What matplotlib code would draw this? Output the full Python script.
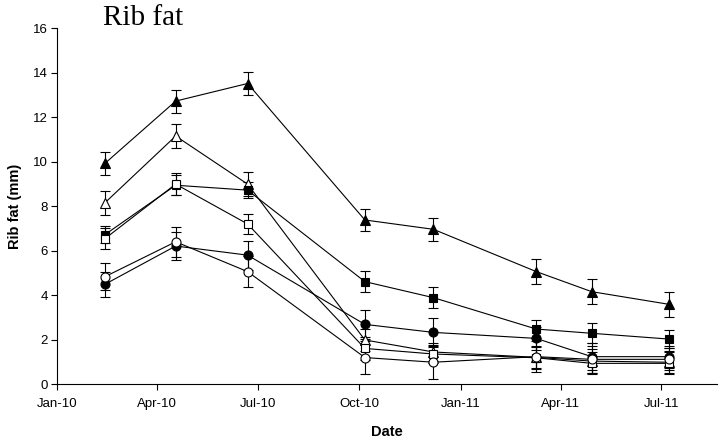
import datetime as dt
import matplotlib
matplotlib.use("Agg")
import matplotlib.pyplot as plt
import matplotlib.dates as mdates

# Sampling dates
dates = ["2010-02-13", "2010-04-18", "2010-06-22", "2010-10-06",
         "2010-12-07", "2011-03-10", "2011-04-29", "2011-07-08"]

# Rib fat means (mm) and standard errors for each group
tri_fill = [9.93, 12.73, 13.52, 7.39, 6.97, 5.07, 4.17, 3.60]
tri_fill_err = [0.50, 0.52, 0.50, 0.50, 0.52, 0.55, 0.55, 0.55]

tri_open = [8.16, 11.16, 9.00, 2.00, 1.46, 1.22, 1.05, 1.00]
tri_open_err = [0.53, 0.55, 0.53, 0.50, 0.40, 0.50, 0.55, 0.50]

sq_fill = [6.73, 8.95, 8.73, 4.62, 3.90, 2.49, 2.30, 2.04]
sq_fill_err = [0.38, 0.45, 0.35, 0.48, 0.47, 0.41, 0.45, 0.40]

sq_open = [6.55, 9.00, 7.21, 1.62, 1.37, 1.20, 0.95, 0.95]
sq_open_err = [0.48, 0.49, 0.47, 0.50, 0.40, 0.50, 0.50, 0.50]

circ_fill = [4.50, 6.22, 5.81, 2.70, 2.34, 2.07, 1.25, 1.25]
circ_fill_err = [0.55, 0.63, 0.65, 0.65, 0.66, 0.50, 0.60, 0.50]

circ_open = [4.84, 6.41, 5.07, 1.21, 1.00, 1.25, 1.13, 1.13]
circ_open_err = [0.60, 0.68, 0.70, 0.75, 0.75, 0.70, 0.60, 0.50]

y_ticks = [0, 2, 4, 6, 8, 10, 12, 14, 16]
x_ticks = ["2010-01-01", "2010-04-01", "2010-07-01", "2010-10-01",
           "2011-01-01", "2011-04-01", "2011-07-01"]

sans = "Liberation Sans"
serif = "Liberation Serif"

x = [dt.datetime.strptime(d, "%Y-%m-%d") for d in dates]

fig = plt.figure(figsize=(7.2, 4.42), dpi=100)
ax = fig.add_axes([0.0796, 0.1301, 0.9158, 0.8059])

series = [
    (tri_fill, tri_fill_err, "^", "black", 7.5),
    (tri_open, tri_open_err, "^", "white", 7.5),
    (sq_fill, sq_fill_err, "s", "black", 6.0),
    (sq_open, sq_open_err, "s", "white", 6.0),
    (circ_fill, circ_fill_err, "o", "black", 6.5),
    (circ_open, circ_open_err, "o", "white", 6.5),
]

for vals, errs, mk, face, ms in series:
    ax.errorbar(x, vals, yerr=errs, color="black", linewidth=0.8,
                elinewidth=0.8, capsize=3.4, capthick=0.8,
                marker=mk, markersize=ms, markerfacecolor=face,
                markeredgecolor="black", markeredgewidth=0.8)

ax.set_ylim(0, 16)
ax.set_xlim(dt.datetime(2010, 1, 1), dt.datetime(2011, 8, 20))
ax.set_yticks(y_ticks)
ax.set_xticks([dt.datetime.strptime(d, "%Y-%m-%d") for d in x_ticks])
ax.xaxis.set_major_formatter(mdates.DateFormatter("%b-%y"))

for side in ("top", "right"):
    ax.spines[side].set_visible(False)
for side in ("left", "bottom"):
    ax.spines[side].set_linewidth(0.8)

ax.tick_params(direction="out", length=4, width=0.8, labelsize=9.5)
ax.tick_params(axis="x", pad=6)
ax.tick_params(axis="y", pad=3)
for lab in ax.get_xticklabels() + ax.get_yticklabels():
    lab.set_fontfamily(sans)

fig.text(103 / 720, 1 - 25 / 442, "Rib fat", family=serif, fontsize=21,
         ha="left", va="baseline")
fig.text(15 / 720, 1 - 206.5 / 442, "Rib fat (mm)", family=sans,
         fontsize=10.5, fontweight="bold", rotation=90, ha="center",
         va="center")
fig.text(387 / 720, 1 - 431.7 / 442, "Date", family=sans, fontsize=10.5,
         fontweight="bold", ha="center", va="center")

fig.savefig("out.png", dpi=100)
